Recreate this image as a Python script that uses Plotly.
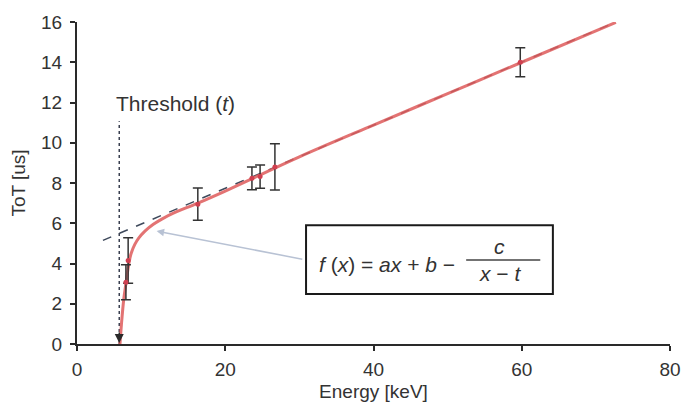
import plotly.graph_objects as go

# Measured points with error bars
energy_kev = [6.6, 6.9, 16.3, 23.6, 24.7, 26.7, 59.8]
tot_us = [3.07, 4.15, 6.95, 8.23, 8.32, 8.8, 14.0]
tot_err = [0.87, 1.13, 0.8, 0.57, 0.58, 1.15, 0.72]

# Fitted curve
fit_x = [5.8, 6.0, 6.3, 6.6, 7.0, 7.3, 7.8, 8.3, 9.2, 10.3, 11.5, 13.0, 16.3, 20.0, 24.0, 30.0, 40.0, 50.0, 60.0, 72.7]
fit_y = [0.0, 1.0, 2.2, 3.0, 4.0, 4.5, 4.95, 5.25, 5.62, 5.95, 6.22, 6.5, 7.0, 7.6, 8.28, 9.3, 10.88, 12.44, 14.0, 15.98]

# Linear asymptote (dashed)
lin_x = [3.5, 72.7]
lin_y = [5.15, 16.0]

# Threshold
threshold_x = [5.7, 5.7]
threshold_y = [0.0, 11.07]

x_ticks = [0, 20, 40, 60, 80]
y_ticks = [0, 2, 4, 6, 8, 10, 12, 14, 16]

font = "Liberation Sans, Arial, sans-serif"
dark = "#2a2a2a"

fig = go.Figure()

fig.add_trace(go.Scatter(x=threshold_x, y=threshold_y, mode="lines",
                         line=dict(color="#3a4050", width=1.5, dash="dot"),
                         hoverinfo="skip", showlegend=False))
fig.add_trace(go.Scatter(x=lin_x, y=lin_y, mode="lines",
                         line=dict(color="#3f4a5c", width=1.5, dash="dash"),
                         hoverinfo="skip", showlegend=False))
fig.add_trace(go.Scatter(x=fit_x, y=fit_y, mode="lines", line_shape="spline",
                         line=dict(color="rgba(222,90,90,0.85)", width=3),
                         hoverinfo="skip", showlegend=False))
fig.add_trace(go.Scatter(x=energy_kev, y=tot_us, mode="markers",
                         marker=dict(color="#d04050", size=5),
                         error_y=dict(type="data", array=tot_err, color="#333333",
                                      thickness=1.5, width=5),
                         showlegend=False))

# Formula box
fig.add_shape(type="rect", x0=30.9, x1=64.2, y0=2.49, y1=5.9, xref="x", yref="y",
              line=dict(color="#1a1a1a", width=2), fillcolor="rgba(255,255,255,0)")
# Fraction bar
fig.add_shape(type="line", x0=52.5, x1=62.5, y0=4.18, y1=4.18, xref="x", yref="y",
              line=dict(color="#444444", width=1.5))

annots = [
    dict(x=5.0, y=11.95, text="Threshold (<i>t</i>)", showarrow=False, xanchor="left",
         yanchor="middle", font=dict(size=21, color="#333333", family=font)),
    dict(x=51.2, y=3.95, text="<i>f</i> (<i>x</i>) = <i>ax</i> + <i>b</i> \u2212", showarrow=False,
         xanchor="right", yanchor="middle", font=dict(size=21, color="#333333", family=font)),
    dict(x=57.0, y=4.85, text="<i>c</i>", showarrow=False, xanchor="center", yanchor="middle",
         font=dict(size=21, color="#333333", family=font)),
    dict(x=57.0, y=3.5, text="<i>x</i> \u2212 <i>t</i>", showarrow=False, xanchor="center",
         yanchor="middle", font=dict(size=21, color="#333333", family=font)),
    # arrow from box to curve
    dict(x=10.74, y=5.61, ax=30.6, ay=4.2, xref="x", yref="y", axref="x", ayref="y",
         text="", showarrow=True, arrowhead=2, arrowsize=1, arrowwidth=1.5,
         arrowcolor="#b8c2d4"),
    # threshold arrowhead
    dict(x=5.7, y=0.05, ax=0, ay=-12, text="", showarrow=True, arrowhead=2,
         arrowsize=1.2, arrowwidth=1.5, arrowcolor="#2a2a2a"),
]
fig.update_layout(annotations=annots)

fig.update_layout(
    width=693, height=413,
    margin=dict(l=77, r=13, t=16, b=69),
    paper_bgcolor="white", plot_bgcolor="white",
    font=dict(family=font, size=19, color="#333333"),
    xaxis=dict(range=[0, 80], tickvals=x_ticks, showgrid=False, zeroline=False,
               showline=True, linecolor=dark, linewidth=2, ticks="outside",
               ticklen=5, tickwidth=2, tickcolor=dark, ticklabelstandoff=2,
               title=dict(text="Energy [keV]", font=dict(size=19), standoff=6),
               tickfont=dict(size=19)),
    yaxis=dict(range=[0, 16], tickvals=y_ticks, showgrid=False, zeroline=False,
               showline=True, linecolor=dark, linewidth=2, ticks="outside",
               ticklen=5, tickwidth=2, tickcolor=dark, ticklabelstandoff=4,
               title=dict(text="ToT [us]", font=dict(size=19), standoff=10),
               tickfont=dict(size=19)),
)

fig.write_html("out.html")
